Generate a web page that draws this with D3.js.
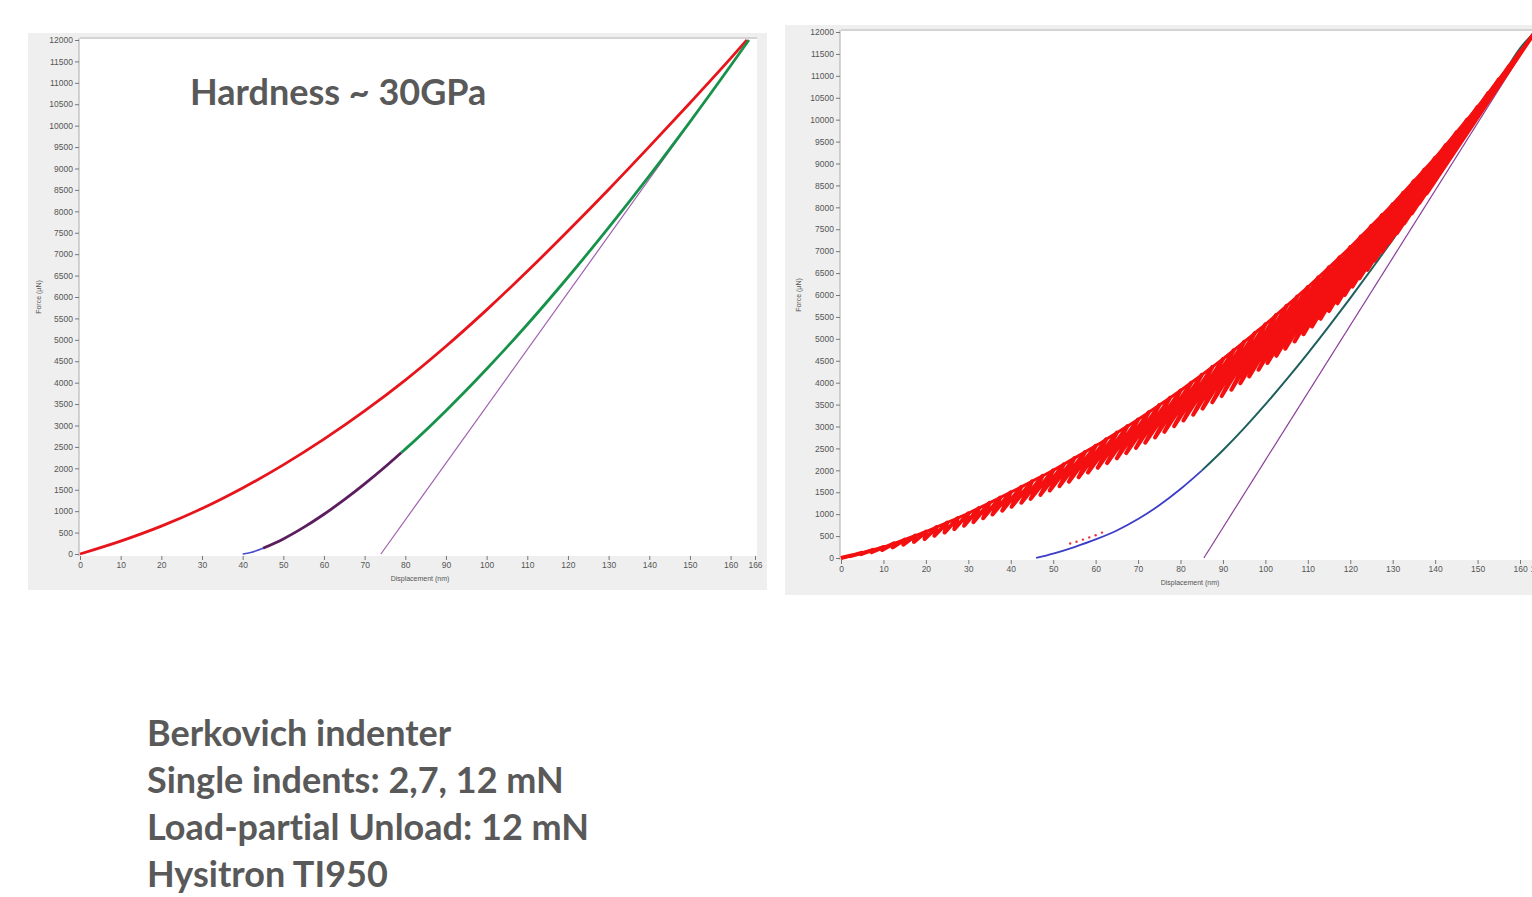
<!DOCTYPE html>
<html lang="en">
<head>
<meta charset="UTF-8">
<title>Nanoindentation</title>
<script src="https://d3js.org/d3.v7.min.js"></script>
<style>
body{margin:0;background:#fff;}
.tk text{font-family:"Liberation Sans",Arial,sans-serif;fill:#555;}
.big{font-family:Lato,"Open Sans",sans-serif;font-weight:700;fill:#595959;font-variant-ligatures:none;}
</style>
</head>
<body>
<svg id="fig" width="1532" height="897"></svg>
<script>
// ---- data ----
var forceTicks = [0,500,1000,1500,2000,2500,3000,3500,4000,4500,5000,5500,6000,6500,7000,7500,8000,8500,9000,9500,10000,10500,11000,11500,12000];
var dispTicksL = [0,10,20,30,40,50,60,70,80,90,100,110,120,130,140,150,160,166];
var dispTicksR = [0,10,20,30,40,50,60,70,80,90,100,110,120,130,140,150,160,164];

// left: single indent
var loadDispL  = [0,10,20,30,40,50,60,70,80,90,100,110,120,130,140,150,160,164];
var loadForceL = [0,300,650,1060,1540,2080,2680,3340,4060,4850,5700,6600,7540,8510,9510,10530,11570,12000];
var unloadDispL  = [40,42,45,50,55,60,65,70,75,79,80,90,100,110,120,130,140,150,160,164.5];
var unloadForceL = [0,37,133,352,621,928,1268,1637,2030,2364,2448,3346,4318,5358,6461,7619,8828,10090,11398,12000];
var tangentL = [[74,0],[164.5,12000]];

// right: load - partial unload cycles
var peakDisp  = [2.5,5,7.5,10,12.5,15,17.5,20,22.5,25,27.5,30,32.5,35,37.5,40,42.5,45,47.5,50,52.5,55,57.5,60,62.5,65,67.5,70,72.5,75,77.5,80,
                 82.5,85,87.5,90,92.5,95,97.5,100,102.5,105,107.5,110,112.5,115,117.5,120,122.5,125,127.5,130,132.5,135,137.5,140,142.5,145,147.5,150,152.5,155,157.5,160];
var peakForce = [60,120,185,250,335,420,510,600,702,806,912,1020,1138,1258,1378,1500,1623,1748,1873,2000,2138,2278,2418,2560,2708,2858,3008,3160,3323,3488,3653,3820,
                 3998,4178,4358,4540,4735,4933,5131,5330,5540,5752,5965,6180,6405,6632,6860,7090,7333,7578,7823,8070,8333,8598,8863,9130,9418,9708,9998,10290,10605,10920,11235,11550];
var valleyDisp  = [2.2,4.7,7.2,9.7,12.2,14.7,17.2,19.7,22.0,24.4,26.7,29.0,31.2,33.5,35.7,38.0,40.2,42.5,44.7,47.0,49.2,51.5,53.7,56.0,58.2,60.5,62.7,65.0,67.2,69.5,71.7,74.0,
                   76.2,78.5,80.7,83.0,85.2,87.5,89.7,92.0,94.1,96.2,98.4,100.5,102.6,104.7,106.9,109.0,111.0,113.0,115.0,117.0,118.7,120.5,122.2,124.0,125.7,127.5,129.2,131.0,132.7,134.5,136.2,138.0];
var valleyForce = [43,86,133,180,241,302,367,432,505,580,657,734,819,906,992,1080,1169,1259,1349,1440,1539,1640,1741,1843,1950,2058,2166,2275,2393,2511,2630,2750,
                   2879,3008,3138,3269,3409,3552,3694,3838,3989,4141,4295,4450,4612,4775,4939,5105,5280,5456,5633,5810,6000,6191,6381,6574,6781,6990,7199,7409,7636,7862,8089,8316];
var finalPeak = [163.5,12000];
var unloadDispR  = [46,50,55,60,65,70,75,80,85,90,95,100,105,110,115,120,125,130,135,140,145,150,155,160,163.5];
var unloadForceR = [0,100,250,423,628,888,1203,1573,1993,2458,2963,3503,4073,4668,5288,5928,6588,7263,7953,8658,9378,10113,10863,11628,12000];
var tangentR = [[85.5,0],[163.5,12000]];
var strayDisp  = [54,55.5,57,58.5,60,61.5];
var strayForce = [330,370,420,470,520,580];

var svg = d3.select('#fig');
svg.append('rect').attr('width',1532).attr('height',897).attr('fill','#fff');

function zip(a,b){ return a.map(function(d,i){ return [d,b[i]]; }); }

function panel(p){
    var g = svg.append('g');
    g.append('rect').attr('x',p.px).attr('y',p.py).attr('width',p.pw).attr('height',p.ph).attr('fill','#efefef');
    g.append('rect').attr('x',p.x0-1).attr('y',p.top).attr('width',p.right-p.x0+1).attr('height',p.bottom-p.top).attr('fill','#fff');
    g.append('line').attr('x1',p.x0).attr('x2',p.right).attr('y1',p.top).attr('y2',p.top).attr('stroke','#d4d4d4').attr('stroke-width',2);

    var x = d3.scaleLinear().domain([0,p.xmax]).range([p.x0,p.x1]);
    var y = d3.scaleLinear().domain([0,12000]).range([p.y0,p.y1]);

    var ya = g.append('g').attr('class','tk').attr('transform','translate('+(p.x0-1)+',0)')
        .call(d3.axisLeft(y).tickValues(forceTicks).tickSize(4).tickPadding(2).tickFormat(d3.format('d')));
    ya.select('.domain').attr('d','M0,'+p.top+'V'+p.bottom).attr('stroke','#aaa');
    ya.selectAll('.tick line').attr('stroke','#777');
    ya.selectAll('text').attr('font-size',8.5);

    var xa = g.append('g').attr('class','tk').attr('transform','translate(0,'+p.bottom+')')
        .call(d3.axisBottom(x).tickValues(p.xticks).tickSize(4).tickPadding(2).tickFormat(d3.format('d')));
    xa.select('.domain').remove();
    xa.selectAll('.tick line').attr('stroke','#777');
    xa.selectAll('text').attr('font-size',8.5);

    g.append('text').attr('transform','translate('+p.ylabX+','+((p.top+p.bottom)/2)+') rotate(-90)')
        .attr('text-anchor','middle').attr('font-size',7).attr('fill','#555')
        .style('font-family','Liberation Sans, Arial, sans-serif').text('Force (µN)');
    g.append('text').attr('x',p.xlabX).attr('y',p.bottom+25).attr('text-anchor','middle')
        .attr('font-size',7).attr('fill','#555').style('font-family','Liberation Sans, Arial, sans-serif')
        .text('Displacement (nm)');
    return {g:g,x:x,y:y};
}

// left chart
var L = panel({px:28,py:33,pw:739,ph:557,x0:80,right:757,top:38,bottom:556,
    x1:755,y0:554,y1:40,xmax:166,xticks:dispTicksL,ylabX:41,xlabX:420});
var lineL = d3.line().x(function(d){return L.x(d[0]);}).y(function(d){return L.y(d[1]);}).curve(d3.curveMonotoneX);
var lineLin = d3.line().x(function(d){return L.x(d[0]);}).y(function(d){return L.y(d[1]);});

L.g.append('path').attr('d',lineLin(tangentL)).attr('fill','none').attr('stroke','#a060b0').attr('stroke-width',1.2);
L.g.append('path').attr('d',lineL(zip(loadDispL,loadForceL))).attr('fill','none').attr('stroke','#e8141c').attr('stroke-width',2.8);
var unL = zip(unloadDispL,unloadForceL);
L.g.append('path').attr('d',lineL(unL.filter(function(d){return d[0]>=79;}))).attr('fill','none').attr('stroke','#17924a').attr('stroke-width',2.8);
L.g.append('path').attr('d',lineL(unL.filter(function(d){return d[0]<=79 && d[0]>=44;}))).attr('fill','none').attr('stroke','#5c1d5e').attr('stroke-width',2.8);
L.g.append('path').attr('d',lineL(unL.filter(function(d){return d[0]<=45;}))).attr('fill','none').attr('stroke','#4a4ad0').attr('stroke-width',1.6);

// right chart
var R = panel({px:785,py:25,pw:747,ph:570,x0:841,right:1532,top:30,bottom:560,
    x1:1537,y0:558,y1:32,xmax:164,xticks:dispTicksR,ylabX:801,xlabX:1190});
var lineR = d3.line().x(function(d){return R.x(d[0]);}).y(function(d){return R.y(d[1]);}).curve(d3.curveMonotoneX);
var lineRlin = d3.line().x(function(d){return R.x(d[0]);}).y(function(d){return R.y(d[1]);});

var cyc = [[0,0]];
peakDisp.forEach(function(h,i){
    cyc.push([h,peakForce[i]]);
    cyc.push([valleyDisp[i],valleyForce[i]]);
});
cyc.push(finalPeak);
var envelope = [[0,0]].concat(zip(peakDisp,peakForce)).concat([finalPeak]);

R.g.append('path').attr('d',lineRlin(tangentR)).attr('fill','none').attr('stroke','#8a3f98').attr('stroke-width',1.2);
var unR = zip(unloadDispR,unloadForceR);
R.g.append('path').attr('d',lineR(unR.filter(function(d){return d[0]>=85;}))).attr('fill','none').attr('stroke','#1d5f5c').attr('stroke-width',2);
R.g.append('path').attr('d',lineR(unR.filter(function(d){return d[0]<=85;}))).attr('fill','none').attr('stroke','#3c3cc8').attr('stroke-width',1.8);
R.g.selectAll('.stray').data(zip(strayDisp,strayForce)).enter().append('circle')
    .attr('cx',function(d){return R.x(d[0]);}).attr('cy',function(d){return R.y(d[1]);})
    .attr('r',1.2).attr('fill','#e83040');
R.g.append('path').attr('d',lineRlin(cyc)).attr('fill','none').attr('stroke','#f41010').attr('stroke-width',4)
    .attr('stroke-linejoin','round');
R.g.append('path').attr('d',lineR(envelope)).attr('fill','none').attr('stroke','#f41010').attr('stroke-width',3);

// annotation text
svg.append('text').attr('class','big').attr('x',190).attr('y',105).attr('font-size',36)
    .text('Hardness ~ 30GPa');

var notes = ['Berkovich indenter','Single indents: 2,7, 12 mN','Load-partial Unload: 12 mN','Hysitron TI950'];
svg.selectAll('.note').data(notes).enter().append('text').attr('class','big note')
    .attr('x',147).attr('y',function(d,i){return 746+i*47;}).attr('font-size',36)
    .text(function(d){return d;});
</script>
</body>
</html>
